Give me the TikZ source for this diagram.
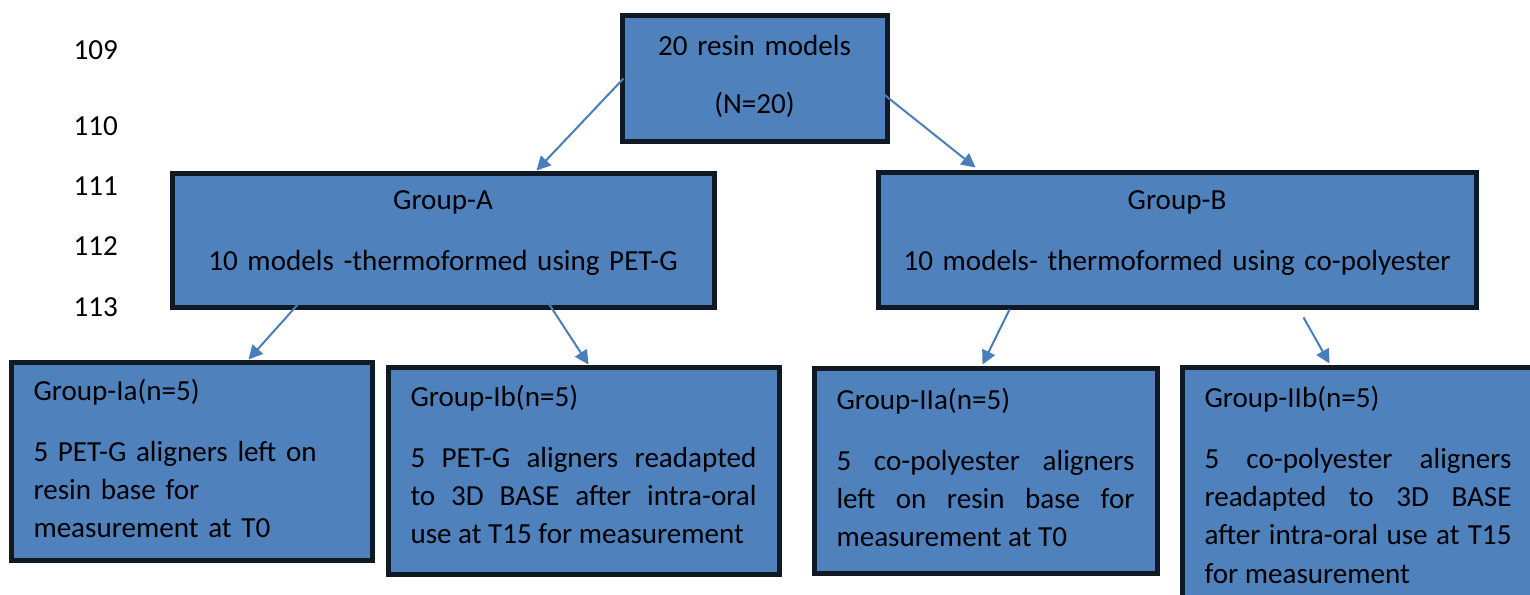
\documentclass[tikz,border=0pt]{standalone}
\usepackage{fontspec}
\setmainfont{Carlito}
\usetikzlibrary{arrows.meta, positioning, calc}
\definecolor{boxblue}{HTML}{4F81BD}
\definecolor{boxline}{HTML}{101A24}
\definecolor{arrowblue}{HTML}{4A7EBB}
\newdimen\px \px=0.4pt

\begin{document}
\begin{tikzpicture}[
    x=0.4pt, y=-0.4pt,
    box/.style={
        draw=boxline, line width=2pt, fill=boxblue,
        rectangle, anchor=north west,
        inner xsep=10\px, inner ysep=0pt,
        font=\fontsize{11.64pt}{15.32pt}\selectfont
    },
    centerbox/.style={box, align=center},
    leftbox/.style={box, align=left, inner xsep=22.5\px},
    justbox/.style={box, align=justify, inner xsep=22.5\px},
    lineno/.style={
        anchor=base west, inner sep=0pt,
        font=\fontsize{11.64pt}{15.32pt}\selectfont
    },
    arr/.style={
        -{Triangle[length=5.6pt, width=5.6pt]}, line width=0.8pt, draw=arrowblue
    },
]
\useasboundingbox (0,0) rectangle (1530,594);

% line numbers
\foreach \n/\y in {109/59.5, 110/135, 111/195, 112/255, 113/316}
    \node[lineno] (ln\n) at (73,\y) {\n};

% boxes
\node[centerbox, text width=245\px, text height=40.5\px, text depth=85.5\px] (top) at (619.5,12.5)
    {20 resin models\\[7.9pt](N=20)};
\node[centerbox, text width=522\px, text height=36.5\px, text depth=97.5\px] (grpA) at (169.5,170.5)
    {Group-A\\[9pt]10 models -thermoformed using PET-G};
\node[centerbox, text width=578\px, text height=37.5\px, text depth=97.5\px] (grpB) at (875.5,169.5)
    {Group-B\\[9pt]10 models- thermoformed using co-polyester};
\node[leftbox, text width=316\px, text height=38.5\px, text depth=159.5\px] (grpIa) at (8.5,359.5)
    {Group-Ia(n=5)\\[9pt]5 PET-G aligners left on\\resin base for\\measurement at T0};
\node[justbox, text width=346\px, text height=39.5\px, text depth=167.5\px] (grpIb) at (385.5,364.5)
    {Group-Ib(n=5)\\[9pt]5 PET-G aligners readapted\linebreak to 3D BASE after intra-oral\linebreak use at T15 for measurement};
\node[justbox, text width=298\px, text height=41.5\px, text depth=163.5\px] (grpIIa) at (811.5,365.5)
    {Group-IIa(n=5)\\[9pt]5 co-polyester aligners\linebreak left on resin base for\linebreak measurement at T0};
\node[justbox, text width=307\px, text height=40.5\px, text depth=202\px] (grpIIb) at (1179.5,364.5)
    {Group-IIb(n=5)\\[9pt]5 co-polyester aligners\linebreak readapted to 3D BASE\linebreak after intra-oral use at T15\linebreak for measurement};

% arrows
\draw[arr] ($(top.north west)+(4,66)$) -- ($(grpA.north west)+(367,0)$);
\draw[arr] ($(top.north east)+(-8,80)$) -- ($(grpB.north west)+(100,-2)$);
\draw[arr] ($(grpA.south west)+(130,-7)$) -- ($(grpIa.north west)+(240,0)$);
\draw[arr] ($(grpA.south west)+(372,-17)$) -- ($(grpIb.north west)+(203,0)$);
\draw[arr] ($(grpB.south west)+(134,0)$) -- ($(grpIIa.north west)+(171,-1)$);
\draw[arr] ($(grpB.south west)+(428,8)$) -- ($(grpIIb.north west)+(150,-1)$);
\end{tikzpicture}
\end{document}
